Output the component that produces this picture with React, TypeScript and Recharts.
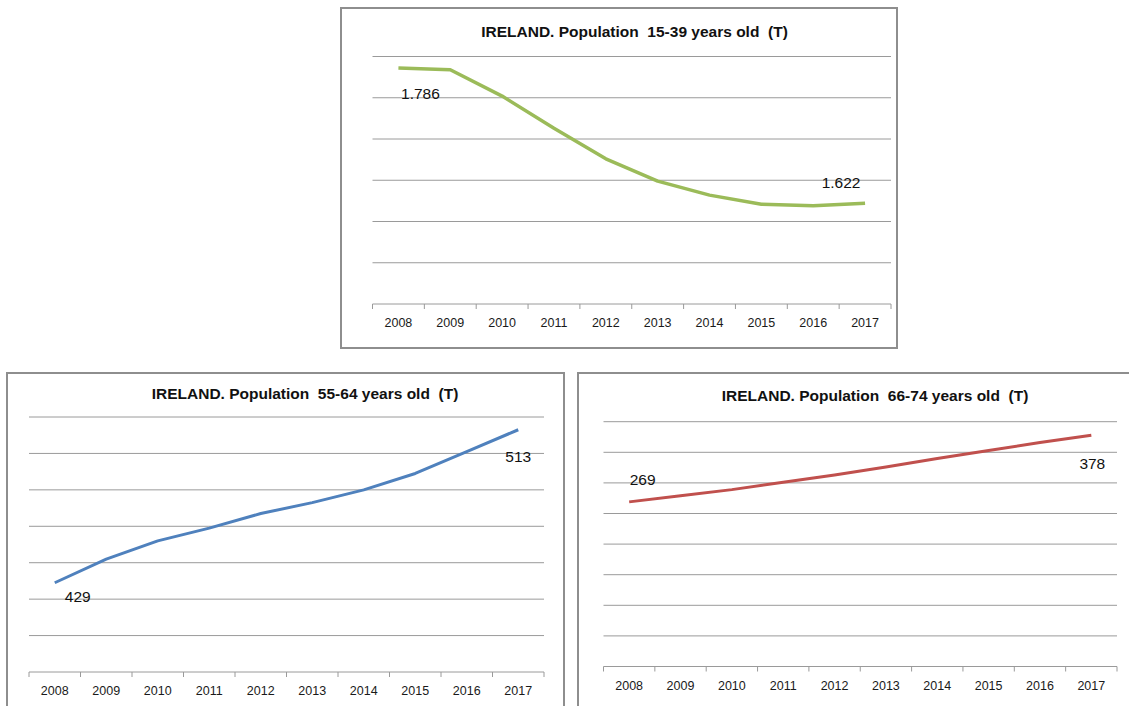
import { LineChart, Line, XAxis, YAxis, ReferenceLine, LabelList } from "recharts";

const YEARS = ["2008", "2009", "2010", "2011", "2012", "2013", "2014", "2015", "2016", "2017"];

// thousands of people per age group
const AGE_15_39 = [1786, 1784, 1752, 1713, 1676, 1649, 1632, 1621, 1619, 1622];
const AGE_55_64 = [429, 442, 452, 459, 467, 473, 480, 489, 501, 513];
const AGE_66_74 = [269, 279, 289, 301, 313, 326, 340, 353, 366, 378];

const TICKS_15_39 = [1500, 1550, 1600, 1650, 1700, 1750, 1800];
const TICKS_55_64 = [380, 400, 420, 440, 460, 480, 500, 520];
const TICKS_66_74 = [0, 50, 100, 150, 200, 250, 300, 350, 400];

const FONT = '"Liberation Sans", Arial, sans-serif';
const GRID = "#9a9a9a";

// 1786 -> "1.786"
const dotThousands = (v: number) =>
  v >= 1000 ? `${Math.floor(v / 1000)}.${String(v % 1000).padStart(3, "0")}` : String(v);

const YearTick = (props: any) => {
  const { x, y, payload, index, step, count } = props;
  const left = x - step / 2;
  const right = x + step / 2;
  return (
    <g>
      <line x1={left} x2={left} y1={y} y2={y + 5} stroke={GRID} />
      {index === count - 1 && <line x1={right} x2={right} y1={y} y2={y + 5} stroke={GRID} />}
      <text x={x} y={y + 19} textAnchor="middle" dominantBaseline="central" fontSize={12.5} fill="#1a1a1a" fontFamily={FONT}>
        {payload.value}
      </text>
    </g>
  );
};

type LabelSpot = { index: number; dx: number; dy: number };

const Panel = ({ title, values, ticks, color, box, margin, titleAt, labels, strokeWidth }: any) => {
  const data = YEARS.map((year, i) => ({ year, value: values[i] }));
  const w = box.width - 4;
  const h = box.height - 4;
  const plotW = w - margin.left - margin.right;
  const step = plotW / YEARS.length;

  const renderLabel = (p: any) => {
    const spot = (labels as LabelSpot[]).find((l) => l.index === p.index);
    if (!spot) return null;
    return (
      <text x={p.x + spot.dx} y={p.y + spot.dy} textAnchor="middle" dominantBaseline="central" fontSize={15.5} fill="#111" fontFamily={FONT}>
        {dotThousands(p.value)}
      </text>
    );
  };

  return (
    <>
      <div
        style={{
          position: "absolute",
          left: box.left,
          top: box.top,
          width: box.width,
          height: box.height,
          boxSizing: "border-box",
          border: "2px solid #8e8e8e",
          background: "#fff",
        }}
      >
        <LineChart width={w} height={h} data={data} margin={margin}>
          <XAxis
            dataKey="year"
            interval={0}
            padding={{ left: step / 2, right: step / 2 }}
            height={30}
            tickSize={0}
            tickMargin={0}
            tickLine={false}
            axisLine={{ stroke: GRID }}
            tick={(p: any) => <YearTick {...p} step={step} count={YEARS.length} />}
          />
          <YAxis hide domain={[ticks[0], ticks[ticks.length - 1]]} ticks={ticks} />
          {/* horizontal gridlines */}
          {ticks.slice(1).map((t: number) => (
            <ReferenceLine key={t} y={t} stroke={GRID} strokeWidth={1} />
          ))}
          <Line type="linear" dataKey="value" stroke={color} strokeWidth={strokeWidth} strokeLinejoin="round" dot={false} isAnimationActive={false}>
            <LabelList dataKey="value" content={renderLabel} />
          </Line>
        </LineChart>
      </div>
      <div
        style={{
          position: "absolute",
          left: titleAt.x - 250,
          top: titleAt.y - 13.4,
          width: 500,
          textAlign: "center",
          fontFamily: FONT,
          fontWeight: 700,
          fontSize: 15.5,
          lineHeight: "16px",
          whiteSpace: "pre",
          color: "#111",
        }}
      >
        {title}
      </div>
    </>
  );
};

export default function App() {
  return (
    <div style={{ position: "fixed", left: 0, top: 0, width: 1129, height: 706, overflow: "hidden", background: "#fff" }}>
      <Panel
        title="IRELAND. Population  15-39 years old  (T)"
        values={AGE_15_39}
        ticks={TICKS_15_39}
        color="#9bbb59"
        strokeWidth={3.5}
        box={{ left: 340, top: 7, width: 558, height: 342 }}
        margin={{ top: 47.5, right: 5, bottom: 13, left: 30.5 }}
        titleAt={{ x: 634.5, y: 37.7 }}
        labels={[
          { index: 0, dx: 22, dy: 25 },
          { index: 9, dx: -24, dy: -21 },
        ]}
      />
      <Panel
        title="IRELAND. Population  55-64 years old  (T)"
        values={AGE_55_64}
        ticks={TICKS_55_64}
        color="#4f81bd"
        strokeWidth={3}
        box={{ left: 6, top: 372, width: 559, height: 345 }}
        margin={{ top: 43, right: 19, bottom: 13, left: 21 }}
        titleAt={{ x: 305, y: 399.5 }}
        labels={[
          { index: 0, dx: 23, dy: 14 },
          { index: 9, dx: 0, dy: 27 },
        ]}
      />
      <Panel
        title="IRELAND. Population  66-74 years old  (T)"
        values={AGE_66_74}
        ticks={TICKS_66_74}
        color="#c0504d"
        strokeWidth={3}
        box={{ left: 577, top: 372, width: 562, height: 345 }}
        margin={{ top: 47.7, right: 20, bottom: 18.5, left: 24.5 }}
        titleAt={{ x: 875, y: 401.5 }}
        labels={[
          { index: 0, dx: 13.5, dy: -22 },
          { index: 9, dx: 1, dy: 28 },
        ]}
      />
    </div>
  );
}
